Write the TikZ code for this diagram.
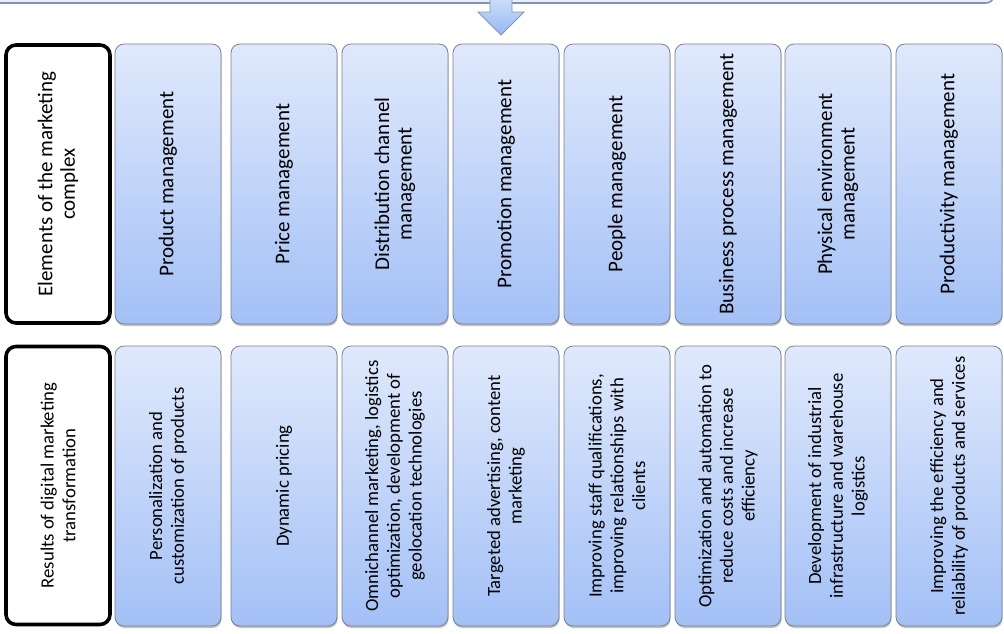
\documentclass[tikz,border=0pt]{standalone}
\usepackage{fontspec}
\setmainfont{Carlito}
\usetikzlibrary{shadows}
\definecolor{boxtop}{RGB}{224,233,252}
\definecolor{boxbot}{RGB}{163,192,246}
\definecolor{boxline}{RGB}{125,128,140}
\definecolor{barfill}{RGB}{232,238,250}
\definecolor{barline}{RGB}{130,146,184}
\definecolor{arrtop}{RGB}{205,222,250}
\definecolor{arrbot}{RGB}{150,184,240}
\begin{document}
\begin{tikzpicture}[x=1pt,y=-1pt,
  elem/.style={draw=boxline, line width=0.8pt, rounded corners=9pt,
    top color=boxtop, bottom color=boxbot, minimum width=106pt,
    minimum height=280pt, inner sep=0pt,
    drop shadow={shadow xshift=0.6pt, shadow yshift=-2pt, opacity=0.35, fill=black!70}},
  headbox/.style={draw=black, line width=3.6pt, rounded corners=10pt, fill=white,
    minimum width=104pt, minimum height=278pt, inner sep=0pt},
  toptxt/.style={rotate=90, align=center, inner sep=0pt, font=\fontsize{21}{22.5}\selectfont},
  bottxt/.style={rotate=90, align=center, inner sep=0pt, font=\fontsize{18.7}{21.7}\selectfont},
  barbox/.style={draw=barline, line width=1.6pt, rounded corners=8pt, fill=barfill,
    minimum width=1024pt, minimum height=50pt, inner sep=0pt}]
\useasboundingbox (0,0) rectangle (1004,633);
\begin{scope}
\clip (0,0) rectangle (1004,633);
\node[barbox] (bar) at (482,-22) {};
\end{scope}
% block arrow
\draw[barline, line width=0.8pt, top color=arrtop, bottom color=arrbot]
  (490,-2) -- (512,-2) -- (512,12) -- (524,12) -- (501,35) -- (478,12) -- (490,12) -- cycle;
% header boxes
\node[headbox] (h1) at (58,184) {};
\node[toptxt] (h1t) at (h1.center) {Elements of the marketing\\complex};
\node[headbox] (h2) at (58,485.5) {};
\node[bottxt] (h2t) at (h2.center) {Results of digital marketing\\transformation};
% columns
\foreach \i/\cx/\ta/\tb in {
  1/168/{Product management}/{Personalization and\\customization of products},
  2/284/{Price management}/{Dynamic pricing},
  3/395/{Distribution channel\\management}/{Omnichannel marketing, logistics\\optimization, development of\\geolocation technologies},
  4/506/{Promotion management}/{Targeted advertising, content\\marketing},
  5/617/{People management}/{Improving staff qualifications,\\improving relationships with\\clients},
  6/728/{Business process management}/{Optimization and automation to\\reduce costs and increase\\efficiency},
  7/838/{Physical environment\\management}/{Development of industrial\\infrastructure and warehouse\\logistics},
  8/949/{Productivity management}/{Improving the efficiency and\\reliability of products and services}}{
  \node[elem] (a\i) at (\cx,184) {};
  \node[toptxt] (at\i) at (a\i.center) {\ta};
  \node[elem] (b\i) at (\cx,486) {};
  \node[bottxt] (bt\i) at (b\i.center) {\tb};
}
\end{tikzpicture}
\end{document}
